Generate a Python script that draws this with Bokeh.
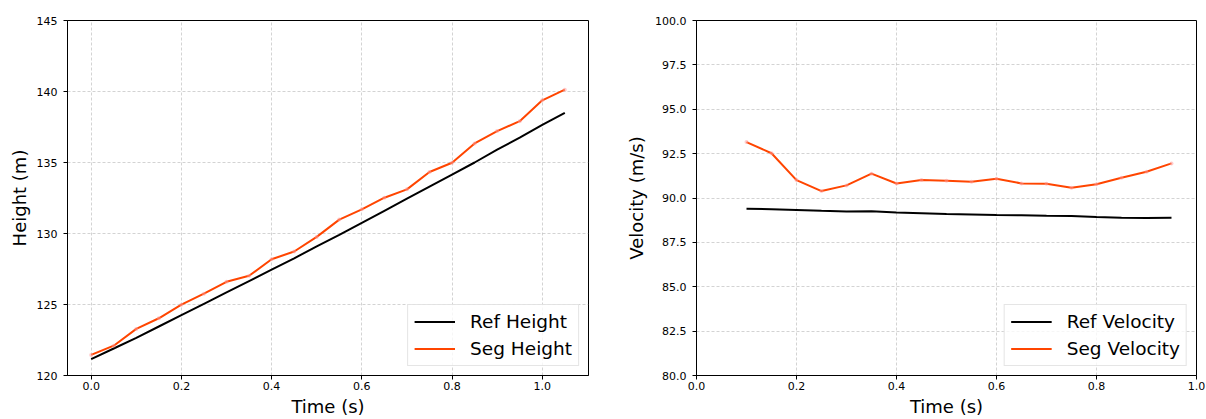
from bokeh.plotting import figure
from bokeh.layouts import row
from bokeh.models import FixedTicker, PrintfTickFormatter
from bokeh.embed import file_html
from bokeh.resources import INLINE

# ---- data ----
time_h = [0.00, 0.05, 0.10, 0.15, 0.20, 0.25, 0.30, 0.35, 0.40, 0.45, 0.50,
          0.55, 0.60, 0.65, 0.70, 0.75, 0.80, 0.85, 0.90, 0.95, 1.00, 1.05]
ref_height = [121.15, 121.90, 122.65, 123.45, 124.25, 125.05, 125.85, 126.65,
              127.45, 128.25, 129.10, 129.90, 130.75, 131.60, 132.45, 133.30,
              134.15, 135.00, 135.90, 136.75, 137.65, 138.50]
seg_height = [121.45, 122.10, 123.28, 124.03, 124.99, 125.76, 126.60, 127.02,
              128.19, 128.73, 129.76, 130.98, 131.70, 132.52, 133.11, 134.33,
              134.98, 136.34, 137.21, 137.91, 139.38, 140.13]

time_v = [0.10, 0.15, 0.20, 0.25, 0.30, 0.35, 0.40, 0.45, 0.50,
          0.55, 0.60, 0.65, 0.70, 0.75, 0.80, 0.85, 0.90, 0.95]
ref_velocity = [89.40, 89.37, 89.33, 89.28, 89.24, 89.25, 89.18, 89.14, 89.10,
                89.07, 89.04, 89.03, 89.00, 88.98, 88.93, 88.89, 88.87, 88.89]
seg_velocity = [93.15, 92.52, 91.01, 90.39, 90.71, 91.37, 90.82, 91.01, 90.97,
                90.92, 91.09, 90.82, 90.80, 90.58, 90.77, 91.14, 91.48, 91.95]

height_ticks = [120, 125, 130, 135, 140, 145]
velocity_ticks = [80.0, 82.5, 85.0, 87.5, 90.0, 92.5, 95.0, 97.5, 100.0]
time_ticks = [0.0, 0.2, 0.4, 0.6, 0.8, 1.0]

SEG = "#ff4500"
FONT = "DejaVu Sans"


def style(p, xlabel, ylabel, ylabel_standoff, yticks, yfmt):
    p.outline_line_color = "black"
    p.outline_line_width = 1
    p.background_fill_color = "white"
    p.border_fill_color = "white"
    for ax in (p.xaxis[0], p.yaxis[0]):
        ax.axis_line_color = "black"
        ax.major_tick_line_color = "black"
        ax.major_tick_out = 4
        ax.major_tick_in = 0
        ax.minor_tick_line_color = None
        ax.major_label_text_font = FONT
        ax.major_label_text_font_size = "11px"
        ax.major_label_text_color = "black"
        ax.major_label_text_line_height = 1.0
        ax.axis_label_text_font = FONT
        ax.axis_label_text_font_size = "18px"
        ax.axis_label_text_font_style = "normal"
        ax.axis_label_text_color = "black"
        ax.axis_label_text_line_height = 1.0
    p.xaxis[0].axis_label = xlabel
    p.yaxis[0].axis_label = ylabel
    p.xaxis[0].ticker = FixedTicker(ticks=time_ticks)
    p.xaxis[0].formatter = PrintfTickFormatter(format="%.1f")
    p.yaxis[0].ticker = FixedTicker(ticks=yticks)
    p.yaxis[0].formatter = PrintfTickFormatter(format=yfmt)
    p.xaxis[0].major_label_standoff = 2
    p.xaxis[0].axis_label_standoff = 3
    p.yaxis[0].major_label_standoff = 6
    p.yaxis[0].axis_label_standoff = ylabel_standoff
    for g in (p.xgrid[0], p.ygrid[0]):
        g.grid_line_color = "#b0b0b0"
        g.grid_line_alpha = 0.7
        g.grid_line_dash = "3 2"
        g.grid_line_width = 0.8
    lg = p.legend[0]
    lg.location = "bottom_right"
    lg.margin = 9
    lg.padding = 6
    lg.spacing = 6
    lg.label_text_font = FONT
    lg.label_text_font_size = "18.5px"
    lg.label_text_color = "black"
    lg.label_height = 21
    lg.glyph_height = 21
    lg.glyph_width = 41
    lg.label_standoff = 15
    lg.border_line_color = "#cccccc"
    lg.border_line_width = 1
    lg.background_fill_alpha = 0.8


# ---- left: height ----
p1 = figure(width=600, height=419, output_backend="svg", toolbar_location=None,
            x_range=(-0.0525, 1.1025), y_range=(120, 145),
            min_border_left=67, min_border_right=12, min_border_top=20,
            min_border_bottom=43)
p1.line(time_h, ref_height, line_color="black", line_width=2, legend_label="Ref Height")
p1.line(time_h, seg_height, line_color=SEG, line_width=2, legend_label="Seg Height")
p1.scatter(time_h, seg_height, size=4, fill_color="#ff9999", line_color=None, alpha=0.5)
style(p1, "Time (s)", "Height (m)", 4, height_ticks, "%d")

# ---- right: velocity ----
p2 = figure(width=606, height=419, output_backend="svg", toolbar_location=None,
            x_range=(0, 1), y_range=(80, 100),
            min_border_left=96, min_border_right=10, min_border_top=20,
            min_border_bottom=43)
p2.line(time_v, ref_velocity, line_color="black", line_width=2, legend_label="Ref Velocity")
p2.line(time_v, seg_velocity, line_color=SEG, line_width=2, legend_label="Seg Velocity")
p2.scatter(time_v, seg_velocity, size=4, fill_color="#ff9999", line_color=None, alpha=0.5)
style(p2, "Time (s)", "Velocity (m/s)", 5, velocity_ticks, "%.1f")

layout = row(p1, p2)
open("out.html", "w").write(file_html(layout, INLINE))
